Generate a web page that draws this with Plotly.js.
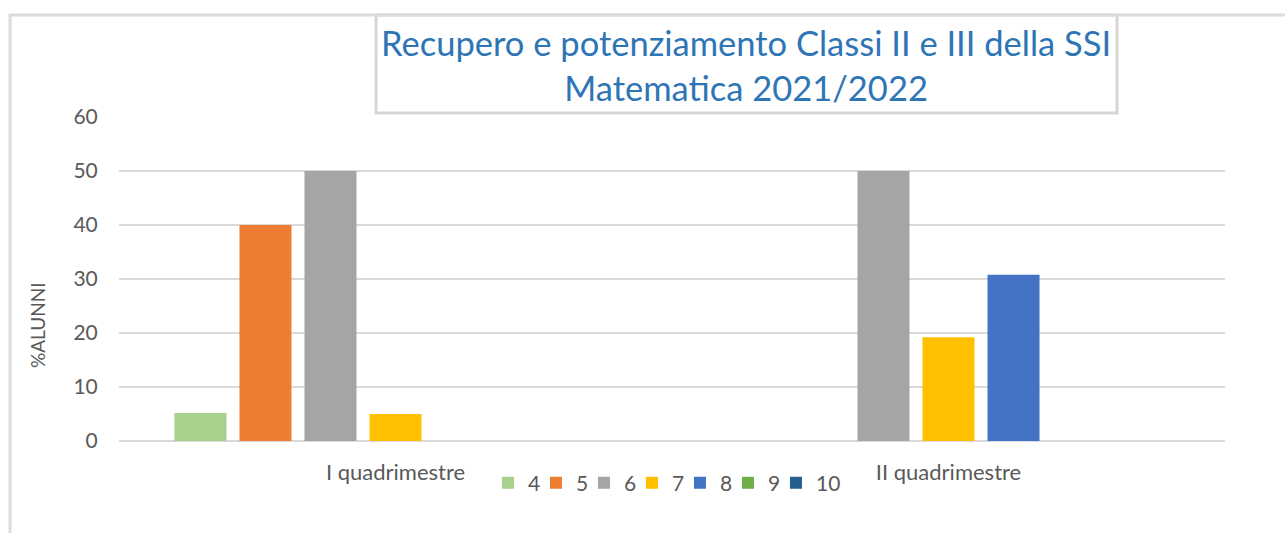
<!DOCTYPE html>
<html>
<head>
<meta charset="utf-8">
<script src="https://cdn.plot.ly/plotly-3.0.1.min.js"></script>
<style>html,body{margin:0;padding:0;background:#fff;}#chart{width:1285px;height:533px;}</style>
</head>
<body>
<div id="chart"></div>
<script>
// Data
const categories = ["I quadrimestre", "II quadrimestre"];
const seriesNames = ["4", "5", "6", "7", "8", "9", "10"];
const v4  = [5.2, 0];
const v5  = [40, 0];
const v6  = [50, 50];
const v7  = [5, 19.2];
const v8  = [0, 30.8];
const v9  = [0, 0];
const v10 = [0, 0];
const seriesValues = [v4, v5, v6, v7, v8, v9, v10];
const seriesColors = ["#A9D18E", "#ED7D31", "#A5A5A5", "#FFC000", "#4472C4", "#70AD47", "#255E91"];
const yTicks = [0, 10, 20, 30, 40, 50, 60];

const FONT = "Lato, 'Open Sans', sans-serif";
const legendId = i => (i === 0 ? "legend" : "legend" + (i + 1));

const traces = seriesNames.map((name, i) => ({
  type: "bar",
  name: name,
  x: categories,
  y: seriesValues[i],
  marker: {color: seriesColors[i]},
  legend: legendId(i),
  hoverinfo: "x+y+name"
}));

const layout = {
  width: 1285,
  height: 533,
  margin: {l: 119, r: 60, t: 117, b: 92},
  paper_bgcolor: "#ffffff",
  plot_bgcolor: "#ffffff",
  font: {family: FONT, color: "#595959", size: 20},
  barmode: "group",
  bargap: 0.177,
  bargroupgap: 0.2,
  title: {
    text: "Recupero e potenziamento Classi II e III della SSI<br>Matematica 2021/2022",
    font: {family: FONT, size: 34.5, color: "#2E75B6"},
    x: 0.567, xref: "paper", xanchor: "center",
    y: 0.895, yref: "container", yanchor: "middle"
  },
  xaxis: {
    type: "category",
    showgrid: false,
    zeroline: false,
    showline: false,
    ticks: "outside",
    ticklen: 12,
    tickcolor: "rgba(0,0,0,0)",
    tickfont: {family: FONT, size: 22, color: "#595959"}
  },
  yaxis: {
    range: [0, 60],
    tickvals: yTicks,
    showgrid: true,
    gridcolor: "#d9d9d9",
    gridwidth: 1.5,
    zeroline: true,
    zerolinecolor: "#d9d9d9",
    zerolinewidth: 1.5,
    showline: false,
    ticks: "outside",
    ticklen: 16,
    tickcolor: "rgba(0,0,0,0)",
    tickfont: {family: FONT, size: 21, color: "#595959"}
  },
  showlegend: true,
  annotations: [{
    text: "%ALUNNI",
    textangle: -90,
    xref: "paper", yref: "paper",
    x: -0.0741, y: 0.358,
    xanchor: "center", yanchor: "middle",
    showarrow: false,
    font: {family: FONT, size: 19, color: "#595959"}
  }],
  shapes: [
    {type: "line", xref: "paper", yref: "paper", x0: -0.0985, x1: -0.0985, y0: 1.3148, y1: -0.35, line: {color: "#dcdcdc", width: 3}},
    {type: "line", xref: "paper", yref: "paper", x0: -0.0999, x1: 1.07, y0: 1.3148, y1: 1.3148, line: {color: "#dcdcdc", width: 3}},
    {type: "rect", xref: "paper", yref: "paper", x0: 0.2324, x1: 0.9024, y0: 1.3148, y1: 1.0123, line: {color: "#d6d6d6", width: 3}, fillcolor: "rgba(0,0,0,0)", layer: "below"}
  ]
};

// one small legend per series, laid out in a row like the reference
seriesNames.forEach((name, i) => {
  layout[legendId(i)] = {
    orientation: "h",
    x: 0.3336 + 0.0434 * i,
    xanchor: "left",
    y: -0.13,
    yanchor: "middle",
    font: {family: FONT, size: 21, color: "#595959"},
    itemwidth: 30,
    bgcolor: "rgba(0,0,0,0)"
  };
});

Plotly.newPlot("chart", traces, layout, {displayModeBar: false, responsive: false});
</script>
</body>
</html>
